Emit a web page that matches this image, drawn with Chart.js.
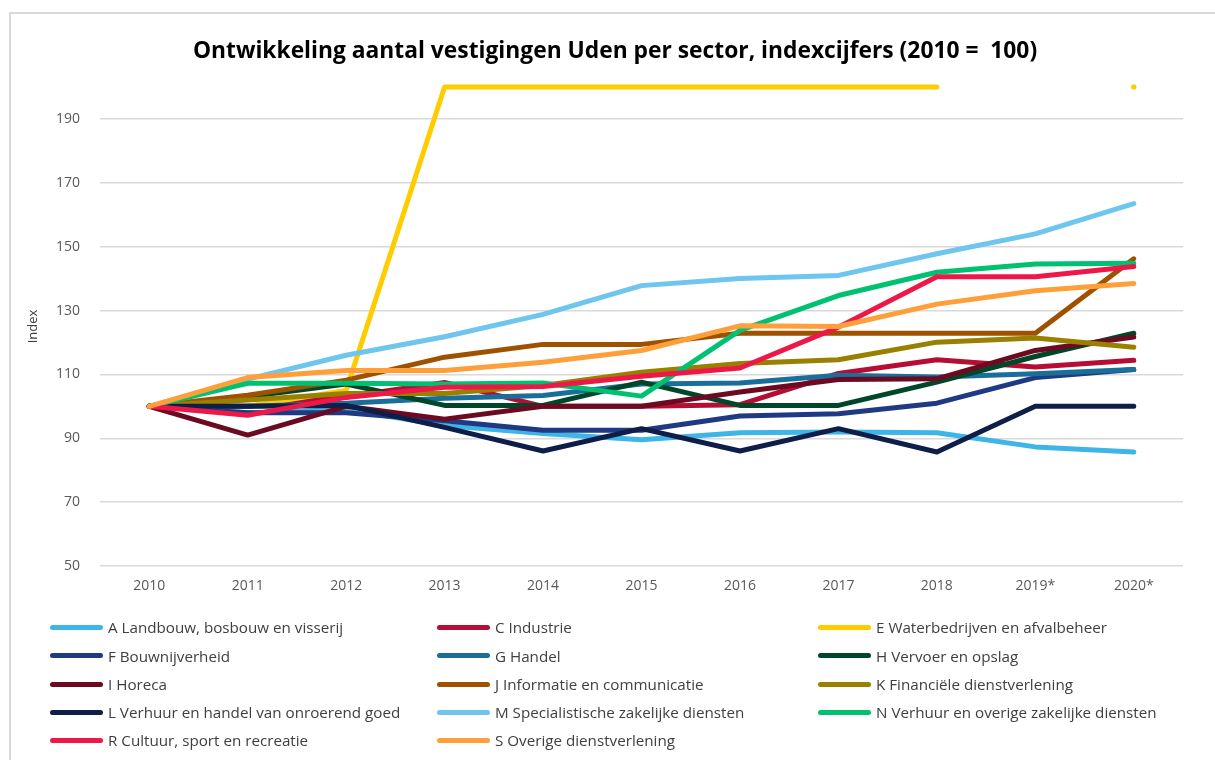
<!DOCTYPE html>
<html>
<head>
<meta charset="utf-8">
<script src="https://cdn.jsdelivr.net/npm/chart.js@4.4.1/dist/chart.umd.min.js"></script>
<style>
  body { margin: 0; background: #fff; width: 1215px; height: 760px; overflow: hidden; position: relative; font-family: 'Open Sans', sans-serif; }
  #frame { position: absolute; left: 9px; top: 12px; width: 1400px; height: 900px; border: 2px solid #d9d9d9; }
  #wrap { position: absolute; left: 0; top: 0; width: 1215px; height: 760px; }
  #title { position: absolute; left: 0; width: 1230px; top: 36px; text-align: center; font-size: 22.8px; line-height: 28px; font-weight: bold; color: #000; white-space: pre; }
  .item { position: absolute; height: 20px; display: flex; align-items: center; font-size: 15.2px; color: #404040; white-space: nowrap; }
  .item .sw { width: 53px; height: 5px; border-radius: 3px; margin-right: 5px; }
</style>
</head>
<body>
<div id="frame"></div>
<div id="wrap"><canvas id="lineChart"></canvas></div>
<div id="title">Ontwikkeling aantal vestigingen Uden per sector, indexcijfers (2010 =  100)</div>
<div id="legend"></div>
<script>
var years = ['2010', '2011', '2012', '2013', '2014', '2015', '2016', '2017', '2018', '2019*', '2020*'];
var yTicks = [50, 70, 90, 110, 130, 150, 170, 190];

var landbouw    = [100, 98, 99, 94, 91.5, 89.5, 91.7, 92, 91.7, 87.3, 85.7];
var industrie   = [100, 100, 103, 107.5, 100, 100, 100.5, 110.3, 114.6, 112.3, 114.4];
var water       = [100, 100, 105, 200, 200, 200, 200, 200, 200, null, 200];
var bouw        = [100, 98, 98, 95.5, 92.5, 92.5, 97, 97.7, 101, 109, 111.5];
var handel      = [100, 100, 101, 102.5, 103.4, 107, 107.3, 109.7, 109.2, 110.2, 111.5];
var vervoer     = [100, 103, 107, 100.3, 100.3, 107.6, 100.3, 100.3, 107.6, 115.6, 122.9];
var horeca      = [100, 91, 100, 96, 100, 100, 104.5, 108.4, 108.6, 117.5, 121.7];
var informatie  = [100, 103.5, 108.2, 115.4, 119.4, 119.4, 122.9, 122.9, 122.9, 122.9, 146.2];
var financieel  = [100, 102, 104, 104, 106.5, 110.7, 113.4, 114.6, 120.1, 121.4, 118.5];
var onroerend   = [100, 100, 100.3, 93.4, 86, 93, 86, 93, 85.7, 100, 100];
var specialist  = [100, 108.5, 116, 121.8, 128.8, 137.8, 140, 141, 147.8, 154, 163.5];
var overigZak   = [100, 107.2, 107.2, 107, 107.3, 103.2, 123.8, 134.7, 142, 144.6, 144.8];
var cultuur     = [100, 97.2, 102.8, 106, 106.2, 109.4, 112, 124.8, 140.6, 140.6, 143.8];
var overigDienst= [100, 109, 111.2, 111.2, 113.8, 117.5, 125.2, 125, 132, 136.2, 138.5];

var series = [
  { label: 'A Landbouw, bosbouw en visserij', data: landbouw, color: '#3fb4e6' },
  { label: 'C Industrie', data: industrie, color: '#b50d34' },
  { label: 'E Waterbedrijven en afvalbeheer', data: water, color: '#ffcc00' },
  { label: 'F Bouwnijverheid', data: bouw, color: '#1f3a82' },
  { label: 'G Handel', data: handel, color: '#1a6e9a' },
  { label: 'H Vervoer en opslag', data: vervoer, color: '#00472a' },
  { label: 'I Horeca', data: horeca, color: '#6b0a20' },
  { label: 'J Informatie en communicatie', data: informatie, color: '#9e5200' },
  { label: 'K Financiële dienstverlening', data: financieel, color: '#9a8000' },
  { label: 'L Verhuur en handel van onroerend goed', data: onroerend, color: '#0f1e48' },
  { label: 'M Specialistische zakelijke diensten', data: specialist, color: '#6ec5ee' },
  { label: 'N Verhuur en overige zakelijke diensten', data: overigZak, color: '#00c171' },
  { label: 'R Cultuur, sport en recreatie', data: cultuur, color: '#ee1848' },
  { label: 'S Overige dienstverlening', data: overigDienst, color: '#ff9f3a' }
];

var datasets = series.map(function (s, i) {
  // isolated point after a gap gets a small dot, like the original
  var radius = s.data.map(function (v, j) {
    var prev = j > 0 ? s.data[j - 1] : null;
    var next = j < s.data.length - 1 ? s.data[j + 1] : null;
    return (v !== null && prev === null && next === null && j > 0) ? 2.5 : 0;
  });
  return {
    label: s.label,
    data: s.data,
    borderColor: s.color,
    backgroundColor: s.color,
    borderWidth: 5,
    borderCapStyle: 'round',
    borderJoinStyle: 'round',
    pointRadius: radius,
    pointBorderWidth: 0,
    pointHoverRadius: 0,
    tension: 0,
    fill: false,
    clip: false,
    order: series.length - i
  };
});

var ctxL = document.getElementById('lineChart').getContext('2d');
var myLineChart = new Chart(ctxL, {
  type: 'line',
  data: { labels: years, datasets: datasets },
  options: {
    responsive: true,
    maintainAspectRatio: false,
    animation: false,
    layout: { padding: { left: 10, right: 32, top: 87, bottom: 0 } },
    plugins: {
      legend: { display: false },
      tooltip: { enabled: false },
      title: { display: false }
    },
    scales: {
      x: {
        offset: true,
        grid: { display: false, drawTicks: false },
        border: { display: false },
        ticks: { color: '#595959', font: { family: 'Open Sans', size: 14 }, padding: 12, maxRotation: 0 },
        afterFit: function (scale) { scale.height = 194; }
      },
      y: {
        min: 50,
        max: 200,
        grid: { color: '#d9d9d9', lineWidth: 1.5, drawTicks: false },
        border: { display: false },
        afterBuildTicks: function (scale) {
          scale.ticks = yTicks.map(function (v) { return { value: v }; });
        },
        ticks: {
          color: '#595959',
          font: { family: 'Open Sans', size: 14 },
          padding: 20
        },
        title: {
          display: true,
          text: 'Index',
          color: '#404040',
          font: { family: 'Open Sans', size: 13 },
          padding: { top: 15, bottom: 0 }
        },
        afterFit: function (scale) { scale.width = 90; }
      }
    }
  }
});

// three-column legend under the plot
var legend = document.getElementById('legend');
var colX = [50, 437, 818];
var rowY = [627, 655.5, 684, 712, 740];
series.forEach(function (s, i) {
  var item = document.createElement('div');
  item.className = 'item';
  item.style.left = colX[i % 3] + 'px';
  item.style.top = (rowY[Math.floor(i / 3)] - 10) + 'px';
  var sw = document.createElement('span');
  sw.className = 'sw';
  sw.style.background = s.color;
  item.appendChild(sw);
  item.appendChild(document.createTextNode(s.label));
  legend.appendChild(item);
});
</script>
</body>
</html>
